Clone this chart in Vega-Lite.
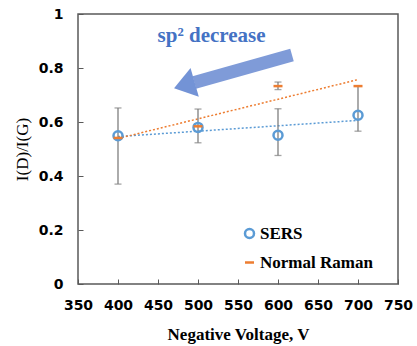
{
  "$schema": "https://vega.github.io/schema/vega-lite/v6.json",
  "width": 320,
  "height": 270,
  "autosize": "none",
  "padding": {"left": 78, "top": 14, "right": 19, "bottom": 62},
  "background": "white",
  "config": {
    "view": {"stroke": "#595959", "strokeWidth": 1.5},
    "axis": {
      "grid": false, "domain": false, "labelOverlap": false, "labelFlush": false, "labelBound": false,
      "labelFont": "DejaVu Sans", "labelFontWeight": "bold", "labelFontSize": 14, "labelColor": "black",
      "titleFont": "Liberation Serif", "titleFontWeight": "bold", "titleFontSize": 17, "titleColor": "black",
      "tickColor": "#595959", "tickSize": -5, "tickWidth": 1
    },
    "axisX": {"labelOverlap": false, "labelSeparation": 0}
  },
  "datasets": {
    "points": [
      {"voltage": 400, "ratio": 0.549, "series": "SERS"},
      {"voltage": 500, "ratio": 0.580, "series": "SERS"},
      {"voltage": 600, "ratio": 0.551, "series": "SERS"},
      {"voltage": 700, "ratio": 0.625, "series": "SERS"},
      {"voltage": 400, "ratio": 0.541, "series": "Normal Raman"},
      {"voltage": 500, "ratio": 0.584, "series": "Normal Raman"},
      {"voltage": 600, "ratio": 0.733, "series": "Normal Raman"},
      {"voltage": 700, "ratio": 0.733, "series": "Normal Raman"}
    ],
    "errors": [
      {"voltage": 400, "lower": 0.37, "upper": 0.652},
      {"voltage": 500, "lower": 0.523, "upper": 0.648},
      {"voltage": 600, "lower": 0.476, "upper": 0.649},
      {"voltage": 700, "lower": 0.566, "upper": 0.733},
      {"voltage": 600, "lower": 0.72, "upper": 0.748}
    ],
    "trends": [
      {"voltage": 400, "ratio": 0.546, "series": "SERS"},
      {"voltage": 700, "ratio": 0.606, "series": "SERS"},
      {"voltage": 400, "ratio": 0.539, "series": "Normal Raman"},
      {"voltage": 700, "ratio": 0.757, "series": "Normal Raman"}
    ],
    "arrow": [
      {"ax": 617.5, "ay": 0.848},
      {"ax": 495.4, "ay": 0.746}
    ],
    "arrowhead": [{"ax": 488.1, "ay": 0.740}],
    "note": [{"ax": 517, "ay": 0.92, "label": "sp² decrease"}]
  },
  "encoding": {
    "x": {"type": "quantitative", "scale": {"domain": [350, 750], "nice": false, "zero": false}, "title": "Negative Voltage, V",
          "axis": {"values": [350, 400, 450, 500, 550, 600, 650, 700, 750], "format": "d", "labelOverlap": false, "labelFlush": false, "labelPadding": 19, "titlePadding": 14}},
    "y": {"type": "quantitative", "scale": {"domain": [0, 1], "nice": false}, "title": "I(D)/I(G)",
          "axis": {"values": [0, 0.2, 0.4, 0.6, 0.8, 1], "format": "~f", "labelOverlap": false, "labelPadding": 20, "titlePadding": 7, "titleFontWeight": "normal", "titleFontSize": 17}}
  },
  "layer": [
    {
      "data": {"name": "trends"},
      "mark": {"type": "line", "strokeDash": [2, 2], "strokeWidth": 1.5},
      "encoding": {
        "x": {"field": "voltage"},
        "y": {"field": "ratio"},
        "detail": {"field": "series"},
        "color": {"field": "series", "type": "nominal", "scale": {"domain": ["SERS", "Normal Raman"], "range": ["#5B9BD5", "#ED7D31"]},
                  "legend": {"title": null, "orient": "none", "legendX": 163, "legendY": 211,
                             "labelFont": "Liberation Serif", "labelFontWeight": "bold", "labelFontSize": 17, "labelColor": "black",
                             "rowPadding": 10, "symbolSize": 81, "symbolStrokeWidth": 2.5, "labelOffset": 2}}
      }
    },
    {
      "data": {"name": "errors"},
      "mark": {"type": "rule", "color": "#7F7F7F", "strokeWidth": 1.3},
      "encoding": {
        "x": {"field": "voltage"},
        "y": {"field": "lower"},
        "y2": {"field": "upper"}
      }
    },
    {
      "data": {"name": "errors"},
      "mark": {"type": "tick", "color": "#7F7F7F", "orient": "horizontal", "size": 7, "thickness": 1.3},
      "encoding": {
        "x": {"field": "voltage"},
        "y": {"field": "lower"}
      }
    },
    {
      "data": {"name": "errors"},
      "mark": {"type": "tick", "color": "#7F7F7F", "orient": "horizontal", "size": 7, "thickness": 1.3},
      "encoding": {
        "x": {"field": "voltage"},
        "y": {"field": "upper"}
      }
    },
    {
      "data": {"name": "points"},
      "mark": {"type": "point", "filled": false, "strokeWidth": 2.5, "size": 81, "opacity": 1},
      "encoding": {
        "x": {"field": "voltage"},
        "y": {"field": "ratio"},
        "color": {"field": "series", "type": "nominal"},
        "shape": {"field": "series", "type": "nominal", "scale": {"domain": ["SERS", "Normal Raman"], "range": ["circle", "M-1,0L1,0"]}}
      }
    },
    {
      "data": {"name": "arrow"},
      "mark": {"type": "line", "strokeWidth": 13, "color": "#7F9BD8", "strokeCap": "butt"},
      "encoding": {
        "x": {"field": "ax"},
        "y": {"field": "ay"}
      }
    },
    {
      "data": {"name": "arrowhead"},
      "mark": {"type": "point", "shape": "M-1,0L0.43,-1L0.43,1Z", "size": 900, "angle": 344, "filled": true, "color": "#7393D6", "opacity": 1},
      "encoding": {
        "x": {"field": "ax"},
        "y": {"field": "ay"}
      }
    },
    {
      "data": {"name": "note"},
      "mark": {"type": "text", "font": "Liberation Serif", "fontWeight": "bold", "fontSize": 21, "color": "#4472C4", "align": "center", "baseline": "middle"},
      "encoding": {
        "x": {"field": "ax"},
        "y": {"field": "ay"},
        "text": {"field": "label"}
      }
    }
  ]
}
